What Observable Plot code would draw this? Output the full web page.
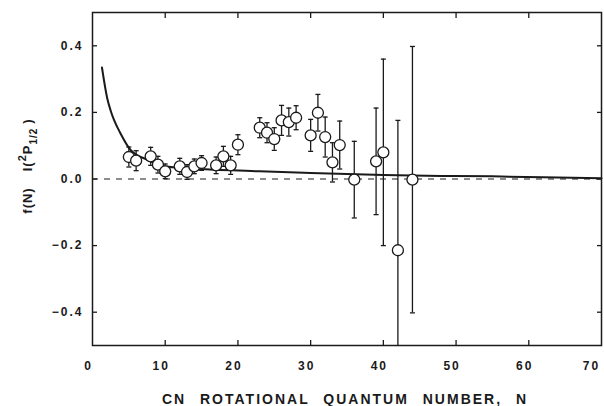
<!DOCTYPE html>
<html>
<head>
<meta charset="utf-8">
<script src="https://cdn.jsdelivr.net/npm/d3@7"></script>
<script src="https://cdn.jsdelivr.net/npm/@observablehq/plot@0.6"></script>
<style>
  html, body { margin: 0; padding: 0; background: #fff; }
  #chart svg { display: block; }
  #chart text { font-family: "Liberation Sans", Arial, sans-serif; font-weight: bold; letter-spacing: 2px; fill: #1a1a1a; }
</style>
</head>
<body>
<div id="chart"></div>
<script>
// Data points: rotational quantum number N, f(N) value, error half-width
const N = [5, 6, 8, 9, 10, 12, 13, 14, 15, 17, 18, 19, 20, 23, 24, 25, 26, 27, 28, 30, 31, 32, 33, 34, 36, 39, 40, 42, 44];
const fN = [0.066, 0.055, 0.068, 0.043, 0.023, 0.038, 0.021, 0.038, 0.048, 0.041, 0.068, 0.041, 0.103, 0.154, 0.139, 0.120, 0.176, 0.171, 0.184, 0.131, 0.199, 0.126, 0.050, 0.102, -0.002, 0.053, 0.080, -0.214, -0.002];
const err = [0.03, 0.03, 0.027, 0.025, 0.022, 0.024, 0.022, 0.022, 0.022, 0.025, 0.03, 0.027, 0.03, 0.03, 0.03, 0.034, 0.045, 0.042, 0.036, 0.048, 0.055, 0.06, 0.059, 0.072, 0.115, 0.16, 0.28, 0.39, 0.40];

// Model curve
const curveN = [1.3, 2, 2.5, 3, 3.8, 5.2, 7.5, 9.8, 15, 23, 30, 40, 48, 55, 62, 70];
const curveV = [0.335, 0.245, 0.205, 0.175, 0.139, 0.088, 0.058, 0.038, 0.030, 0.023, 0.018, 0.012, 0.009, 0.008, 0.005, 0.002];

// Axis ticks
const xTickLabels = [0, 10, 20, 30, 40, 50, 60];
const xLastLabel = [70];
const xInnerTicks = [10, 20, 30, 40, 50, 60];
const yTicks = [-0.4, -0.2, 0, 0.2, 0.4];
const zeroLine = [0];

const xTitle = "CN ROTATIONAL QUANTUM NUMBER, N";

const points = N.map((n, i) => ({N: n, v: fN[i], lo: fN[i] - err[i], hi: fN[i] + err[i]}));
const curve = curveN.map((n, i) => ({N: n, v: curveV[i]}));

const capSymbol = {
  draw(context) {
    context.moveTo(-2.5, 0);
    context.lineTo(2.5, 0);
  }
};

const ink = "#1a1a1a";
const noText = () => "";

const chart = Plot.plot({
  width: 604,
  height: 406,
  marginLeft: 92,
  marginRight: 3,
  marginTop: 12,
  marginBottom: 61,
  style: {background: "#fff", color: ink, fontSize: "12px"},
  x: {domain: [0, 70]},
  y: {domain: [-0.5, 0.5]},
  marks: [
    Plot.ruleY(zeroLine, {stroke: ink, strokeWidth: 1.2, strokeDasharray: "6,6"}),
    Plot.line(curve, {x: "N", y: "v", curve: "monotone-x", stroke: ink, strokeWidth: 2}),
    Plot.ruleX(points, {x: "N", y1: "lo", y2: "hi", stroke: ink, strokeWidth: 1.3, clip: true}),
    Plot.dot(points, {x: "N", y: "hi", symbol: capSymbol, r: 3, stroke: ink, strokeWidth: 1.3, fill: "none", clip: true}),
    Plot.dot(points, {x: "N", y: "lo", symbol: capSymbol, r: 3, stroke: ink, strokeWidth: 1.3, fill: "none", clip: true}),
    Plot.dot(points, {x: "N", y: "v", r: 5.5, stroke: ink, strokeWidth: 1.3, fill: "#fff"}),
    // inward ticks on all four sides
    Plot.axisX({anchor: "bottom", ticks: xInnerTicks, tickSize: 5, dy: -5, tickFormat: noText, label: null, stroke: ink, strokeWidth: 1.3}),
    Plot.axisX({anchor: "top", ticks: xInnerTicks, tickSize: 5, dy: 5, tickFormat: noText, label: null, stroke: ink, strokeWidth: 1.3}),
    Plot.axisY({anchor: "left", ticks: yTicks, tickSize: 5, dx: 5, tickFormat: noText, label: null, stroke: ink, strokeWidth: 1.3}),
    Plot.axisY({anchor: "right", ticks: yTicks, tickSize: 5, dx: -5, tickFormat: noText, label: null, stroke: ink, strokeWidth: 1.3}),
    // tick labels
    Plot.axisX({anchor: "bottom", ticks: xTickLabels, tickSize: 0, tickPadding: 16, dx: -4, tickFormat: d3.format("d"), label: null}),
    Plot.axisX({anchor: "bottom", ticks: xLastLabel, tickSize: 0, tickPadding: 16, dx: -10, tickFormat: d3.format("d"), label: null}),
    Plot.axisY({anchor: "left", ticks: yTicks, tickSize: 0, tickPadding: 9, tickFormat: d3.format(".1f"), label: null}),
    Plot.frame({stroke: ink, strokeWidth: 1.5})
  ]
});

document.getElementById("chart").appendChild(chart);

const svg = d3.select(chart);

// X axis title
svg.append("text")
  .attr("x", 345)
  .attr("y", 404)
  .attr("text-anchor", "middle")
  .style("font-size", "14px")
  .style("word-spacing", "8px")
  .text(xTitle);

// Y axis title: f(N)   I(2P1/2)
const yt = svg.append("text")
  .attr("transform", "translate(32,166) rotate(-90)")
  .attr("text-anchor", "middle")
  .style("font-size", "13px")
  .style("letter-spacing", "1px");
yt.append("tspan").text("f(N)");
yt.append("tspan").attr("dx", 16).text("I(");
yt.append("tspan").attr("dy", -6).style("font-size", "11px").text("2");
yt.append("tspan").attr("dy", 6).text("P");
yt.append("tspan").attr("dy", 5).style("font-size", "10px").text("1/2");
yt.append("tspan").attr("dy", -5).attr("dx", 4).text(")");
</script>
</body>
</html>
